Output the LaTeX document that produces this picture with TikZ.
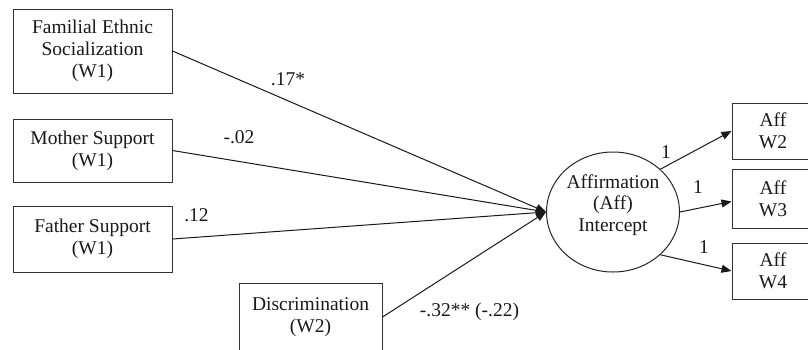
\documentclass[tikz,border=0pt]{standalone}
\usepackage{fontspec}
\setmainfont{Liberation Serif}
\newfontfamily\diagfont{Liberation Serif}
\usetikzlibrary{arrows.meta,shapes.geometric}

\begin{document}
\begin{tikzpicture}[
  x=1pt,
  y=-1pt,
  every node/.style={font=\diagfont\fontsize{19.5}{21.7}\selectfont, text=black!90},
  obsbox/.style={draw=black!80, line width=1pt, align=center, inner sep=0pt},
  latent/.style={draw=black!85, ellipse, line width=1pt, minimum width=133, minimum height=120, inner sep=0pt},
  coef/.style={anchor=base, inner sep=0pt},
  regpath/.style={-{Triangle[length=10pt, width=8pt]}, draw=black!90, line width=1pt},
  loadpath/.style={-{Triangle[length=10pt, width=8pt]}, draw=black!90, line width=1pt}
]
  \useasboundingbox (0,0) rectangle (808,349);
  \clip (0,0) rectangle (808,349);

  % predictors
  \node[obsbox, minimum width=159, minimum height=84] (fes) at (92.5,51) {Familial Ethnic\\Socialization\\(W1)};
  \node[obsbox, minimum width=159, minimum height=63] (mom) at (92.5,150.5) {Mother Support\\(W1)};
  \node[obsbox, minimum width=159, minimum height=66] (dad) at (92.5,239) {Father Support\\(W1)};
  \node[obsbox, minimum width=143, minimum height=68] (disc) at (310.5,317) {Discrimination\\(W2)};

  % latent intercept
  \node[latent] (aff) at (613,212) {};
  \node[align=center, inner sep=0pt] (afftxt) at (613,205) {Affirmation\\(Aff)\\Intercept};

  % indicators
  \node[obsbox, minimum width=82, minimum height=56] (w2) at (773,131) {Aff\\W2};
  \node[obsbox, minimum width=82, minimum height=59] (w3) at (773,198.5) {Aff\\W3};
  \node[obsbox, minimum width=82, minimum height=56] (w4) at (773,271) {Aff\\W4};

  \draw[regpath] (fes.east) -- (aff.west);
  \draw[regpath] (mom.east) -- (aff.west);
  \draw[regpath] (dad.east) -- (aff.west);
  \draw[regpath] (disc.east) -- (aff.west);

  \draw[loadpath] (aff.north east) -- (w2.west);
  \draw[loadpath] (aff.east) -- ([yshift=-3pt]w3.west);
  \draw[loadpath] (aff.south east) -- (w4.west);

  \node[coef] (cfes) at (288,85) {.17*};
  \node[coef] (cmom) at (239,143) {-.02};
  \node[coef] (cdad) at (196.5,221) {.12};
  \node[coef] (cdisc) at (469.5,316) {-.32** (-.22)};
  \node[coef] (lw2) at (666,158) {1};
  \node[coef] (lw3) at (698,193) {1};
  \node[coef] (lw4) at (704,253) {1};
\end{tikzpicture}
\end{document}
